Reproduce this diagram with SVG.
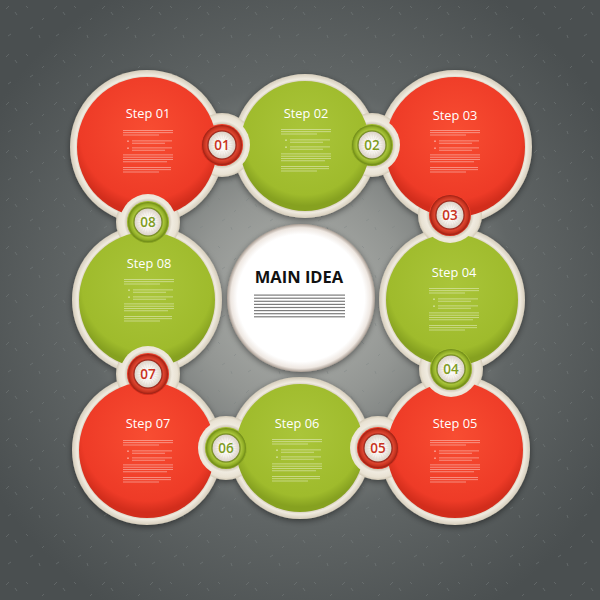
<svg xmlns="http://www.w3.org/2000/svg" width="600" height="600" viewBox="0 0 600 600">
<style>
.title{font-family:"Open Sans","DejaVu Sans",sans-serif;font-size:12.8px;fill:#fff;text-anchor:middle}
.num{font-family:"Open Sans","DejaVu Sans",sans-serif;font-size:13.5px;font-weight:600;text-anchor:middle}
.numR{fill:#c93220}
.numG{fill:#7f9c1f}
.red{fill:url(#gRed)}
.green{fill:url(#gGreen)}
.frame{fill:url(#gBeige)}
.bump{fill:url(#gBump)}
.gl rect,.gl circle{fill:#fff;opacity:.5}
.gm rect{fill:#2a2a2a;opacity:.62}
.tick{stroke:#7d8484;stroke-width:1;opacity:.45;fill:none}
</style>
<defs>
<radialGradient id="gBg" cx="300" cy="300" r="360" gradientUnits="userSpaceOnUse">
<stop offset="0" stop-color="#b4b6b2"/>
<stop offset="0.3" stop-color="#939693"/>
<stop offset="0.6" stop-color="#616666"/>
<stop offset="1" stop-color="#4a4f50"/>
</radialGradient>
<pattern id="pTex" width="48" height="48" patternUnits="userSpaceOnUse">
<path class="tick" d="M6 9l3-3M15 12l2 3M30 29l3-2M39 35l1 3M26 6l2 2M8 36l3-2M44 18l-2 2"/>
</pattern>
<radialGradient id="gRed" cx="0.5" cy="0.4" r="0.56">
<stop offset="0" stop-color="#f84d32"/>
<stop offset="0.85" stop-color="#ee3b27"/>
<stop offset="1" stop-color="#d22d1c"/>
</radialGradient>
<radialGradient id="gGreen" cx="0.5" cy="0.4" r="0.56">
<stop offset="0" stop-color="#aac53a"/>
<stop offset="0.85" stop-color="#9fbb2c"/>
<stop offset="1" stop-color="#86a120"/>
</radialGradient>
<radialGradient id="gBeige" cx="0.5" cy="0.5" r="0.5">
<stop offset="0.86" stop-color="#b9ae98"/>
<stop offset="0.93" stop-color="#f0ebe0"/>
<stop offset="1" stop-color="#d6cdbb"/>
</radialGradient>
<radialGradient id="gBump" cx="0.5" cy="0.5" r="0.5">
<stop offset="0.6" stop-color="#bdb29c"/>
<stop offset="0.75" stop-color="#f0ebe0"/>
<stop offset="0.92" stop-color="#e9e2d3"/>
<stop offset="1" stop-color="#d3cab7"/>
</radialGradient>
<radialGradient id="gRingR" cx="0.5" cy="0.5" r="0.5">
<stop offset="0.66" stop-color="#7e150c"/>
<stop offset="0.77" stop-color="#dc4631"/>
<stop offset="0.9" stop-color="#c7331f"/>
<stop offset="1" stop-color="#9a2014"/>
</radialGradient>
<radialGradient id="gRingG" cx="0.5" cy="0.5" r="0.5">
<stop offset="0.66" stop-color="#5a7010"/>
<stop offset="0.77" stop-color="#a9c43c"/>
<stop offset="0.9" stop-color="#90ad25"/>
<stop offset="1" stop-color="#6c8717"/>
</radialGradient>
<radialGradient id="gInner" cx="0.5" cy="0.5" r="0.5">
<stop offset="0" stop-color="#ffffff"/>
<stop offset="0.6" stop-color="#f7f4ef"/>
<stop offset="1" stop-color="#d9d0c5"/>
</radialGradient>
<radialGradient id="gMain" cx="0.5" cy="0.5" r="0.5">
<stop offset="0.86" stop-color="#ffffff"/>
<stop offset="0.95" stop-color="#eee7e1"/>
<stop offset="1" stop-color="#a89c92"/>
</radialGradient>
<filter id="fSh" x="-20%" y="-20%" width="140%" height="140%">
<feDropShadow dx="0" dy="2" stdDeviation="3" flood-color="#000" flood-opacity="0.45"/>
</filter>
<mask id="m2" maskUnits="userSpaceOnUse" x="0" y="0" width="600" height="600"><rect width="600" height="600" fill="#fff"/><circle cx="222" cy="145" r="28" fill="#000"/></mask>
<mask id="m3" maskUnits="userSpaceOnUse" x="0" y="0" width="600" height="600"><rect width="600" height="600" fill="#fff"/><circle cx="372" cy="145" r="28" fill="#000"/></mask>
<mask id="m4" maskUnits="userSpaceOnUse" x="0" y="0" width="600" height="600"><rect width="600" height="600" fill="#fff"/><circle cx="450" cy="215" r="28" fill="#000"/></mask>
<mask id="m5" maskUnits="userSpaceOnUse" x="0" y="0" width="600" height="600"><rect width="600" height="600" fill="#fff"/><circle cx="451" cy="369" r="28" fill="#000"/></mask>
<mask id="m6" maskUnits="userSpaceOnUse" x="0" y="0" width="600" height="600"><rect width="600" height="600" fill="#fff"/><circle cx="378" cy="448" r="28" fill="#000"/></mask>
<mask id="m7" maskUnits="userSpaceOnUse" x="0" y="0" width="600" height="600"><rect width="600" height="600" fill="#fff"/><circle cx="226" cy="448" r="28" fill="#000"/></mask>
<mask id="m8" maskUnits="userSpaceOnUse" x="0" y="0" width="600" height="600"><rect width="600" height="600" fill="#fff"/><circle cx="148" cy="374" r="28" fill="#000"/></mask>
<mask id="m1" maskUnits="userSpaceOnUse" x="0" y="0" width="600" height="600"><rect width="600" height="600" fill="#fff"/><circle cx="148" cy="222" r="28" fill="#000"/></mask>
<g id="greek" class="gl">
<rect x="-25" y="0" width="50" height="0.8"/><rect x="-25" y="2.3" width="50" height="0.8"/><rect x="-25" y="4.6" width="36" height="0.8"/>
<circle cx="-20" cy="11.2" r="0.9"/><rect x="-16" y="10.5" width="40" height="0.8"/><rect x="-16" y="12.8" width="33" height="0.8"/>
<circle cx="-20" cy="18.2" r="0.9"/><rect x="-16" y="17.5" width="40" height="0.8"/><rect x="-16" y="19.8" width="33" height="0.8"/>
<rect x="-25" y="24.5" width="50" height="0.8"/><rect x="-25" y="26.8" width="50" height="0.8"/><rect x="-25" y="29.1" width="50" height="0.8"/><rect x="-25" y="31.4" width="44" height="0.8"/>
<rect x="-25" y="37" width="48" height="0.8"/><rect x="-25" y="39.3" width="48" height="0.8"/><rect x="-25" y="41.6" width="36" height="0.8"/>
</g>
<g id="sun"><circle r="9.5" fill="none" stroke="#e2d9cd" stroke-width="7" stroke-dasharray="1 1.6" opacity="0.55"/></g>
</defs>

<rect width="600" height="600" fill="url(#gBg)"/>
<rect width="600" height="600" fill="url(#pTex)"/>

<g id="frame" filter="url(#fSh)">
<circle class="frame" cx="147" cy="147" r="77"/>
<circle class="frame" cx="305" cy="146" r="72"/>
<circle class="frame" cx="455" cy="147" r="77"/>
<circle class="frame" cx="452" cy="300" r="73"/>
<circle class="frame" cx="455" cy="450" r="75"/>
<circle class="frame" cx="300" cy="448" r="71"/>
<circle class="frame" cx="147" cy="450" r="75"/>
<circle class="frame" cx="147" cy="300" r="75"/>
<circle class="bump" cx="222" cy="145" r="32"/>
<circle class="bump" cx="372" cy="145" r="32"/>
<circle class="bump" cx="450" cy="215" r="32"/>
<circle class="bump" cx="451" cy="369" r="32"/>
<circle class="bump" cx="378" cy="448" r="32"/>
<circle class="bump" cx="226" cy="448" r="32"/>
<circle class="bump" cx="148" cy="374" r="32"/>
<circle class="bump" cx="148" cy="222" r="32"/>
</g>

<g id="main-idea">
<circle cx="301" cy="298" r="74" fill="url(#gMain)" filter="url(#fSh)"/>
<text x="299" y="283" font-family="'Open Sans','DejaVu Sans',sans-serif" font-size="16.5" font-weight="700" fill="#111" text-anchor="middle">MAIN IDEA</text>
<g class="gm">
<rect x="254" y="294.5" width="91" height="1.2"/><rect x="254" y="297.6" width="91" height="1.2"/><rect x="254" y="300.7" width="91" height="1.2"/><rect x="254" y="303.8" width="91" height="1.2"/>
<rect x="254" y="306.9" width="91" height="1.2"/><rect x="254" y="310" width="91" height="1.2"/><rect x="254" y="313.1" width="91" height="1.2"/><rect x="254" y="316.2" width="91" height="1.2"/>
</g>
</g>

<g id="step-01">
<circle class="red" cx="147" cy="147" r="70" mask="url(#m1)"/>
<text class="title" x="148" y="118">Step 01</text>
<use href="#greek" x="148" y="130"/>
</g>
<g id="step-02">
<circle class="green" cx="305" cy="146" r="65" mask="url(#m2)"/>
<text class="title" x="306" y="118">Step 02</text>
<use href="#greek" x="306" y="129"/>
</g>
<g id="step-03">
<circle class="red" cx="455" cy="147" r="70" mask="url(#m3)"/>
<text class="title" x="455" y="120">Step 03</text>
<use href="#greek" x="455" y="130"/>
</g>
<g id="step-04">
<circle class="green" cx="452" cy="300" r="66" mask="url(#m4)"/>
<text class="title" x="454" y="277">Step 04</text>
<use href="#greek" x="454" y="288"/>
</g>
<g id="step-05">
<circle class="red" cx="455" cy="450" r="68" mask="url(#m5)"/>
<text class="title" x="455" y="428">Step 05</text>
<use href="#greek" x="455" y="440"/>
</g>
<g id="step-06">
<circle class="green" cx="300" cy="448" r="64" mask="url(#m6)"/>
<text class="title" x="297" y="428">Step 06</text>
<use href="#greek" x="297" y="439"/>
</g>
<g id="step-07">
<circle class="red" cx="147" cy="450" r="68" mask="url(#m7)"/>
<text class="title" x="148" y="428">Step 07</text>
<use href="#greek" x="148" y="440"/>
</g>
<g id="step-08">
<circle class="green" cx="147" cy="300" r="68" mask="url(#m8)"/>
<text class="title" x="149" y="268">Step 08</text>
<use href="#greek" x="149" y="279"/>
</g>

<g id="connectors">
<g id="badge-01" transform="translate(222,145)"><circle r="21" class="red"/><circle r="20" fill="url(#gRingR)"/><circle r="13.5" fill="url(#gInner)"/><use href="#sun"/><text class="num numR" y="5">01</text></g>
<g id="badge-02" transform="translate(372,145)"><circle r="21" class="green"/><circle r="20" fill="url(#gRingG)"/><circle r="13.5" fill="url(#gInner)"/><use href="#sun"/><text class="num numG" y="5">02</text></g>
<g id="badge-03" transform="translate(450,215)"><circle r="21" class="red"/><circle r="20" fill="url(#gRingR)"/><circle r="13.5" fill="url(#gInner)"/><use href="#sun"/><text class="num numR" y="5">03</text></g>
<g id="badge-04" transform="translate(451,369)"><circle r="21" class="green"/><circle r="20" fill="url(#gRingG)"/><circle r="13.5" fill="url(#gInner)"/><use href="#sun"/><text class="num numG" y="5">04</text></g>
<g id="badge-05" transform="translate(378,448)"><circle r="21" class="red"/><circle r="20" fill="url(#gRingR)"/><circle r="13.5" fill="url(#gInner)"/><use href="#sun"/><text class="num numR" y="5">05</text></g>
<g id="badge-06" transform="translate(226,448)"><circle r="21" class="green"/><circle r="20" fill="url(#gRingG)"/><circle r="13.5" fill="url(#gInner)"/><use href="#sun"/><text class="num numG" y="5">06</text></g>
<g id="badge-07" transform="translate(148,374)"><circle r="21" class="red"/><circle r="20" fill="url(#gRingR)"/><circle r="13.5" fill="url(#gInner)"/><use href="#sun"/><text class="num numR" y="5">07</text></g>
<g id="badge-08" transform="translate(148,222)"><circle r="21" class="green"/><circle r="20" fill="url(#gRingG)"/><circle r="13.5" fill="url(#gInner)"/><use href="#sun"/><text class="num numG" y="5">08</text></g>
</g>
</svg>
